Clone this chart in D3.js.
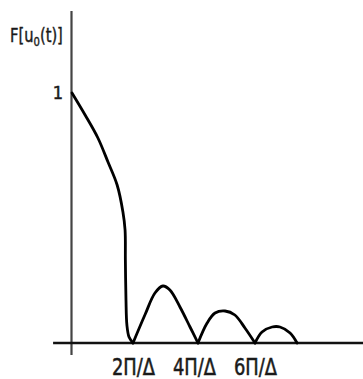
<!DOCTYPE html>
<html><head><meta charset="utf-8">
<script src="https://cdn.jsdelivr.net/npm/d3@7"></script>
<style>
html,body{margin:0;padding:0;background:#fff;}
svg{display:block;}
text{font-family:"Liberation Sans Narrow","DejaVu Sans Condensed","DejaVu Sans",sans-serif;font-stretch:condensed;fill:#1a1a1a;}
</style></head>
<body>
<script>
// Data (x in units of Π/Δ, y as fraction of F at 0)
const lobeIds = [0,0,0,0,0,0,0,0,0,0,0,0, 1,1,1,1,1,1,1,1, 2,2,2,2,2,2,2, 3,3,3,3,3,3];
const xs = [0,0.43,0.85,1.18,1.48,1.67,1.74,1.75,1.77,1.80,1.87,2.0,
            2.0,2.40,2.72,2.98,3.21,3.54,3.87,4.13,
            4.13,4.43,4.69,5.02,5.34,5.67,6.0,
            6.0,6.23,6.56,6.82,7.15,7.38];
const ys = [1.0,0.912,0.82,0.724,0.632,0.524,0.452,0.332,0.172,0.072,0.024,0,
            0,0.115,0.2,0.228,0.212,0.144,0.064,0,
            0,0.08,0.12,0.128,0.112,0.06,0,
            0,0.044,0.064,0.064,0.04,0];
const tickValues = [2,4,6];
const tickLabels = ["2Π/Δ","4Π/Δ","6Π/Δ"];
const yTickValues = [1];
const yTickLabels = ["1"];

const W = 363, H = 379;
const svg = d3.select("body").append("svg").attr("width",W).attr("height",H);

const x = d3.scaleLinear().domain([0,9.5]).range([72,72+9.5*30.5]);
const y = d3.scaleLinear().domain([0,1]).range([343,93]);

// axes lines
svg.append("line").attr("x1",x(0)-0.5).attr("x2",x(0)-0.5)
  .attr("y1",y(1.328)).attr("y2",y(-0.048))
  .attr("stroke","#444").attr("stroke-width",2.2);
svg.append("line").attr("x1",x(-0.62)).attr("x2",W)
  .attr("y1",y(0)).attr("y2",y(0))
  .attr("stroke","#111").attr("stroke-width",2.6);

// x tick labels
const xAxis = d3.axisBottom(x).tickValues(tickValues)
  .tickFormat((d,i)=>tickLabels[i]).tickSize(0).tickPadding(0);
const gx = svg.append("g").attr("transform",`translate(0,${y(0)})`).call(xAxis);
gx.select(".domain").remove();
gx.selectAll("text").attr("dy",null).attr("y",32)
  .attr("font-size",23).attr("font-family",null)
  .attr("textLength",43).attr("lengthAdjust","spacingAndGlyphs")
  .attr("stroke","#1a1a1a").attr("stroke-width",0.5);

// y tick label
const yAxis = d3.axisLeft(y).tickValues(yTickValues)
  .tickFormat((d,i)=>yTickLabels[i]).tickSize(0).tickPadding(9);
const gy = svg.append("g").attr("transform",`translate(${x(0)},0)`).call(yAxis);
gy.select(".domain").remove();
gy.selectAll("text").attr("font-size",18).attr("dy","0.3em").attr("font-family",null)
  .attr("stroke","#1a1a1a").attr("stroke-width",0.5);

// y label (condensed horizontally)
const lab = svg.append("g").attr("transform","translate(10,42) scale(0.86,1)")
  .append("text").attr("x",0).attr("y",0).attr("font-size",19)
  .attr("stroke","#1a1a1a").attr("stroke-width",0.4);
lab.append("tspan").text("F[u");
lab.append("tspan").attr("font-size",13).attr("dy",4).text("0");
lab.append("tspan").attr("dy",-4).text("(t)]");

// curve
const pts = xs.map((v,i)=>({x:v,y:ys[i],lobe:lobeIds[i]}));
const groups = d3.groups(pts,d=>d.lobe);
const line = d3.line().x(d=>x(d.x)).y(d=>y(d.y)).curve(d3.curveCatmullRom.alpha(0.5));
svg.append("g").selectAll("path").data(groups).join("path")
  .attr("d",g=>line(g[1]))
  .attr("fill","none").attr("stroke","#000").attr("stroke-width",2.8)
  .attr("stroke-linejoin","round").attr("stroke-linecap","round");
</script>
</body></html>
